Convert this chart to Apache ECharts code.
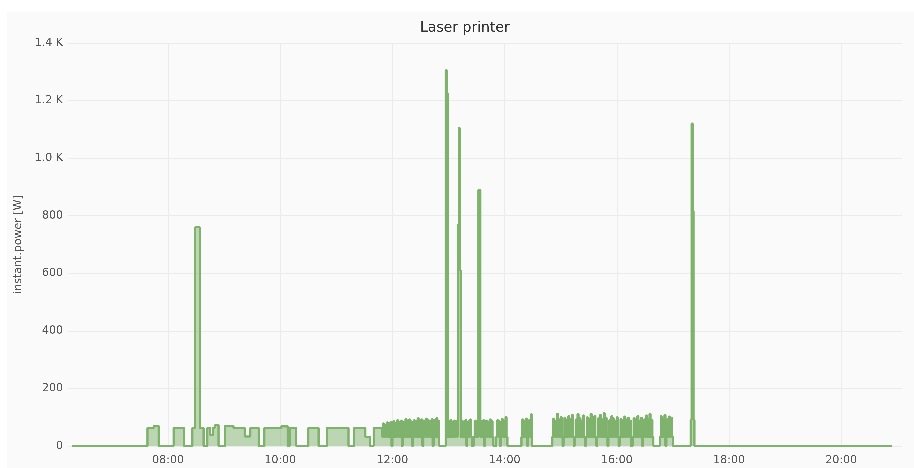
<!DOCTYPE html>
<html>
<head>
<meta charset="utf-8">
<script>
// render at a finer internal resolution so sub-pixel steps are kept
try{Object.defineProperty(window,'devicePixelRatio',{configurable:true,get:function(){return 3;}});}catch(e){}
</script>
<script src="https://cdn.jsdelivr.net/npm/echarts@6/dist/echarts.min.js"></script>
<style>
html,body{margin:0;padding:0;background:#fff;}
#c{width:914px;height:468px;}
</style>
</head>
<body>
<div id="c"></div>
<script>
// ---- data ----
// step change points [time, watts]; value holds until the next point
const morningSteps = [
  ["06:17",0],["07:38",63],["07:45",70],["07:50",0],["08:06",63],["08:17",0],
  ["08:26",63],["08:29",760],["08:34",63],["08:38",0],["08:42",63],["08:45",38],
  ["08:48",63],["08:50",72],["08:54",0],["09:01",70],["09:10",63],["09:22",33],
  ["09:28",63],["09:37",0],["09:43",63],["10:01",68],["10:08",0],["10:10",63],
  ["10:17",0],["10:30",63],["10:41",0],["10:50",63],["11:13",0],["11:19",63],
  ["11:31",32],["11:36",0],["11:40",63]
];
const spikeSteps = [
  ["12:50",0],["12:57",1305],["12:58",1225],["13:10",770],["13:11",1105],["13:12",610],
  ["13:25",0],["13:32",890],["13:48",0],["14:03",0],["14:29",0],["16:15",0],
  ["16:39",0],["17:00",0],["17:19",90],["17:20",1120],["17:21",815],["17:22",90],
  ["17:23",0],["20:54",0]
];
// per-minute readings during busy periods
const burstStarts = ["11:49","12:59","13:13","13:27","13:34","13:51","14:18","14:51","16:17","16:46"];
const burst1 = [32,78,32,74,32,82,32,80,32,84,0,
                32,86,32,80,32,90,32,84,32,88,0,
                32,84,32,94,32,86,32,92,32,85,0,
                32,90,32,86,32,96,32,84,32,92,0,
                32,88,32,95,32,90,32,86,32,93,0,
                32,90,32,97,32,88];
const burst2 = [32,85,32,90,32,84,32,88,32,86,32];
const burst3 = [32,88,32,84,32,90,0,32,86,32,92,32];
const burst4 = [32,88,32,85,32];
const burst5 = [32,86,32,90,0,32,88,32,84,32,92,32,86,32];
const burst6 = [32,90,32,86,0,32,94,32,88,32,100,32];
const burst7 = [32,92,32,86,32,95,0,32,90,32,110];
const burst8 = [32,95,32,88,32,112,32,92,32,100,32,0,
                32,98,32,90,32,104,32,94,32,108,32,0,
                32,92,32,110,32,96,32,88,32,106,32,0,
                32,100,32,94,32,112,32,90,32,104,32,0,
                32,96,32,108,32,92,32,114,32,98,32,0,
                32,90,32,104,32,96,32,88,32,100,32,0,
                32,94,32,86,32,102,32,92,32,98,32,88];
const burst9 = [32,96,32,90,32,104,32,88,32,98,0,32,92,32,106,32,94,32,112,32,90,32];
const burst10 = [32,104,32,96,32,108,0,32,94,32,102,32,98,32];
const bursts = [burst1,burst2,burst3,burst4,burst5,burst6,burst7,burst8,burst9,burst10];
const xTickLabels = ["08:00","10:00","12:00","14:00","16:00","18:00","20:00"];
const yTicks = [0,200,400,600,800,1000,1200,1400];

function ts(hm){const p=hm.split(':').map(Number);return new Date(2020,0,1,p[0],p[1]).getTime();}
const pts=[];
morningSteps.forEach(function(d){pts.push([ts(d[0]),d[1]]);});
spikeSteps.forEach(function(d){pts.push([ts(d[0]),d[1]]);});
burstStarts.forEach(function(s,i){const b=ts(s);bursts[i].forEach(function(v,j){pts.push([b+j*60000,v]);});});
pts.sort(function(a,b){return a[0]-b[0];});
const xTickVals = xTickLabels.map(ts);

const chart=echarts.init(document.getElementById('c'),null,{renderer:'canvas',devicePixelRatio:3});
const FONT='DejaVu Sans';
chart.setOption({
  animation:false,
  backgroundColor:'#ffffff',
  graphic:[{type:'rect',z:-10,silent:true,shape:{x:7,y:12,width:907,height:456},style:{fill:'#fafafa'}}],
  title:{text:'Laser printer',left:415,top:16,textStyle:{fontFamily:FONT,fontSize:14,fontWeight:'normal',color:'#333'}},
  grid:{left:68,right:12,top:43,bottom:22,containLabel:false},
  xAxis:{
    type:'time',min:ts("06:13"),max:ts("21:05"),
    axisLine:{show:false},
    axisTick:{show:false,customValues:xTickVals},
    axisLabel:{customValues:xTickVals,formatter:'{HH}:{mm}',color:'#555',fontFamily:FONT,fontSize:11,margin:9},
    splitLine:{show:true,lineStyle:{color:'#ebebeb',width:1}}
  },
  yAxis:{
    type:'value',min:yTicks[0],max:yTicks[yTicks.length-1],interval:200,
    name:'instant.power [W]',nameLocation:'middle',nameGap:43,
    nameTextStyle:{color:'#555',fontFamily:FONT,fontSize:11},
    axisLine:{show:false},axisTick:{show:false},
    axisLabel:{color:'#555',fontFamily:FONT,fontSize:11,margin:5,
      formatter:function(v){return v>=1000?(v/1000).toFixed(1)+' K':String(v);}},
    splitLine:{show:true,lineStyle:{color:'#ebebeb',width:1}}
  },
  series:[{
    type:'line',step:'end',data:pts,showSymbol:false,
    lineStyle:{color:'#7eb26d',width:2.2},
    itemStyle:{color:'#7eb26d'},
    areaStyle:{color:'#7eb26d',opacity:0.5}
  }]
});
</script>
</body>
</html>
